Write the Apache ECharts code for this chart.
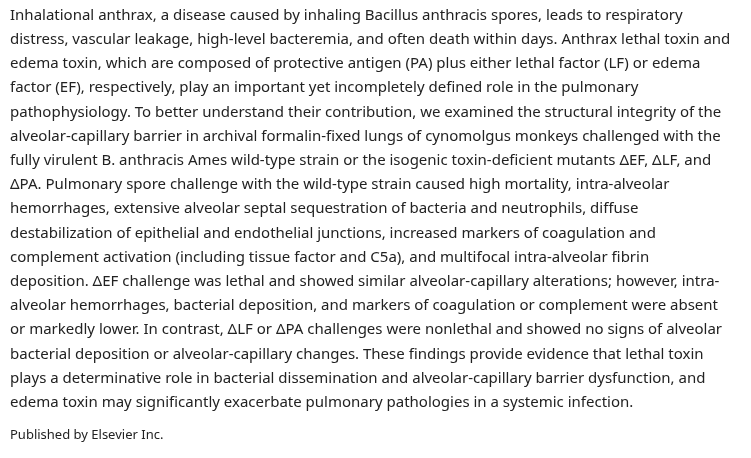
<!DOCTYPE html>
<html>
<head>
<meta charset="utf-8">
<script src="https://cdn.jsdelivr.net/npm/echarts@6/dist/echarts.min.js"></script>
<style>
  html, body { margin: 0; padding: 0; background: #fff; }
  #chart { width: 751px; height: 458px; }
</style>
</head>
<body>
<div id="chart"></div>
<script>
// 摘要正文，每行一条
const abstractLines = [
  "Inhalational anthrax, a disease caused by inhaling Bacillus anthracis spores, leads to respiratory",
  "distress, vascular leakage, high-level bacteremia, and often death within days. Anthrax lethal toxin and",
  "edema toxin, which are composed of protective antigen (PA) plus either lethal factor (LF) or edema",
  "factor (EF), respectively, play an important yet incompletely defined role in the pulmonary",
  "pathophysiology. To better understand their contribution, we examined the structural integrity of the",
  "alveolar-capillary barrier in archival formalin-fixed lungs of cynomolgus monkeys challenged with the",
  "fully virulent B. anthracis Ames wild-type strain or the isogenic toxin-deficient mutants \u0394EF, \u0394LF, and",
  "\u0394PA. Pulmonary spore challenge with the wild-type strain caused high mortality, intra-alveolar",
  "hemorrhages, extensive alveolar septal sequestration of bacteria and neutrophils, diffuse",
  "destabilization of epithelial and endothelial junctions, increased markers of coagulation and",
  "complement activation (including tissue factor and C5a), and multifocal intra-alveolar fibrin",
  "deposition. \u0394EF challenge was lethal and showed similar alveolar-capillary alterations; however, intra-",
  "alveolar hemorrhages, bacterial deposition, and markers of coagulation or complement were absent",
  "or markedly lower. In contrast, \u0394LF or \u0394PA challenges were nonlethal and showed no signs of alveolar",
  "bacterial deposition or alveolar-capillary changes. These findings provide evidence that lethal toxin",
  "plays a determinative role in bacterial dissemination and alveolar-capillary barrier dysfunction, and",
  "edema toxin may significantly exacerbate pulmonary pathologies in a systemic infection."
];
const footerText = "Published by Elsevier Inc.";

const myChart = echarts.init(document.getElementById("chart"));
const elements = abstractLines.map((line, i) => ({
  type: "text",
  left: 10,
  top: 8 + i * 24.2,
  style: { text: line, fill: "#222", font: "15px 'Noto Sans', sans-serif" }
}));
elements.push({
  type: "text",
  left: 10,
  top: 429,
  style: { text: footerText, fill: "#222", font: "13px 'Noto Sans', sans-serif" }
});
myChart.setOption({ graphic: elements });
</script>
</body>
</html>
